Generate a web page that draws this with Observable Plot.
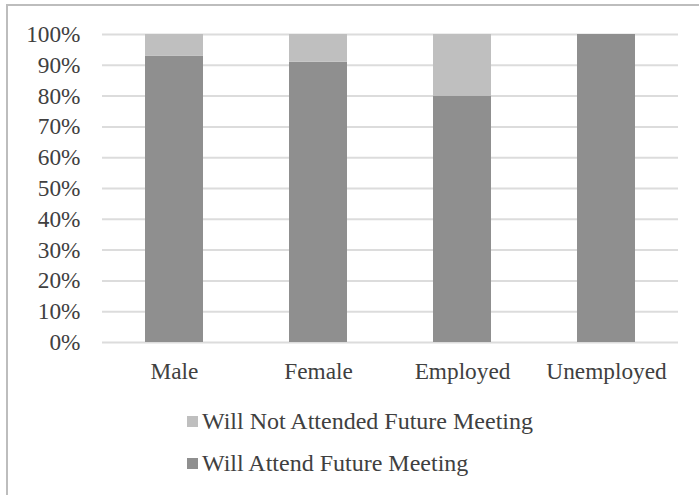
<!DOCTYPE html>
<html>
<head>
<meta charset="utf-8">
<script src="https://cdn.jsdelivr.net/npm/d3@7"></script>
<script src="https://cdn.jsdelivr.net/npm/@observablehq/plot@0.6"></script>
<style>
  html, body { margin: 0; padding: 0; background: #fff; width: 699px; height: 495px; overflow: hidden; }
  #frame { position: absolute; left: 6px; top: 4px; width: 800px; height: 600px;
           border-top: 2px solid #bdbdbd; border-left: 2px solid #bdbdbd; }
  #chart { position: absolute; left: 0; top: 0; }
  .legend { position: absolute; left: 187px; font-family: "Liberation Serif", "Times New Roman", serif;
            font-size: 24px; color: #404040; }
  .legend .item { position: absolute; white-space: nowrap; display: flex; align-items: center; }
  .legend .sw { width: 11px; height: 11px; margin-right: 4px; display: inline-block; }
</style>
</head>
<body>
<div id="frame"></div>
<div id="chart"></div>
<div class="legend" id="legend"></div>
<script>
const categories = ["Male", "Female", "Employed", "Unemployed"];
const seriesNames = ["Will Attend Future Meeting", "Will Not Attended Future Meeting"];
const seriesColors = ["#8f8f8f", "#bfbfbf"];
const willAttend = [93, 91, 80, 100];
const willNotAttend = [7, 9, 20, 0];
const yTicks = [0, 10, 20, 30, 40, 50, 60, 70, 80, 90, 100];

const rows = [];
categories.forEach((c, i) => rows.push({category: c, series: seriesNames[0], value: willAttend[i] / 100}));
categories.forEach((c, i) => rows.push({category: c, series: seriesNames[1], value: willNotAttend[i] / 100}));

const chart = Plot.plot({
  width: 699,
  height: 400,
  marginTop: 34,
  marginBottom: 58,
  marginLeft: 102,
  marginRight: 21,
  style: {fontFamily: "'Liberation Serif', 'Times New Roman', serif", fontSize: "23.3px", color: "#404040", background: "transparent"},
  x: {domain: categories, paddingInner: 0.6, paddingOuter: 0.3, label: null},
  y: {domain: [0, 1], label: null},
  color: {domain: seriesNames, range: seriesColors},
  marks: [
    Plot.gridY(yTicks.map(d => d / 100), {stroke: "#dcdcdc", strokeOpacity: 1, strokeWidth: 2}),
    Plot.barY(rows, Plot.stackY({x: "category", y: "value", fill: "series", order: null})),
    Plot.axisY(yTicks.map(d => d / 100), {tickSize: 0, tickPadding: 22, tickFormat: d => Math.round(d * 100) + "%", fill: "#404040"}),
    Plot.axisX({tickSize: 0, tickPadding: 20, fill: "#404040"})
  ]
});
document.getElementById("chart").appendChild(chart);

const legend = d3.select("#legend");
const order = [1, 0];
const tops = [408, 450];
order.forEach((si, k) => {
  const item = legend.append("div").attr("class", "item").style("top", tops[k] + "px");
  item.append("span").attr("class", "sw").style("background", seriesColors[si]);
  item.append("span").text(seriesNames[si]);
});
</script>
</body>
</html>
